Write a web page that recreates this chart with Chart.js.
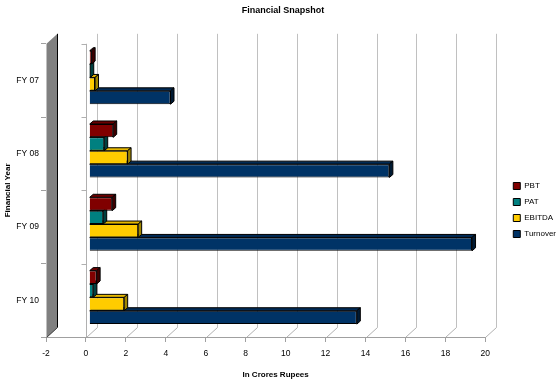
<!DOCTYPE html>
<html><head><meta charset="utf-8">
<script src="https://cdn.jsdelivr.net/npm/chart.js@4"></script>
<style>html,body{margin:0;padding:0;background:#fff}</style>
</head><body>
<canvas id="c" width="560" height="382"></canvas>
<script>
// ---- data ----
const categories = ['FY 07', 'FY 08', 'FY 09', 'FY 10'];
const seriesNames = ['PBT', 'PAT', 'EBITDA', 'Turnover'];
const pbt = [0.12, 1.2, 1.15, 0.37];
const pat = [0.05, 0.75, 0.7, 0.2];
const ebitda = [0.29, 1.92, 2.45, 1.75];
const turnover = [4.07, 15.03, 19.17, 13.4];
const xTickMin = -2, xTickMax = 20, xTickStep = 2;

// ---- styles ----
const FONT = 'Liberation Sans, Arial, sans-serif';
const frontColors = ['#800000', '#008080', '#FFCC00', '#003366'];
const topColors = ['#6a0000', '#006a6a', '#e6b800', '#002a55'];
const sideColors = ['#3d0000', '#004040', '#a08600', '#001a33'];
const FLOOR = {dx: 11, dy: -10};     // depth of the whole 3D plot
const SHIFT = {dx: 3.3, dy: -3};     // bars sit a little behind the front plane
const BAR = {dx: 3.5, dy: -3};       // depth of each bar

function poly(ctx, pts, fill, stroke) {
  ctx.beginPath();
  ctx.moveTo(pts[0][0], pts[0][1]);
  for (let i = 1; i < pts.length; i++) ctx.lineTo(pts[i][0], pts[i][1]);
  ctx.closePath();
  if (fill) { ctx.fillStyle = fill; ctx.fill(); }
  if (stroke) { ctx.strokeStyle = stroke; ctx.lineWidth = 1; ctx.stroke(); }
}
function line(ctx, x1, y1, x2, y2, color) {
  ctx.beginPath(); ctx.moveTo(x1, y1); ctx.lineTo(x2, y2);
  ctx.strokeStyle = color; ctx.lineWidth = 1; ctx.stroke();
}

const threeD = {
  id: 'threeD',
  beforeDatasetsDraw(chart) {
    const {ctx, chartArea: a, scales: {x}} = chart;
    const top = a.top, bottom = a.bottom + 0.5;
    const left = Math.round(x.getPixelForValue(xTickMin)) + 0.5;
    const right = Math.round(x.getPixelForValue(xTickMax)) + 0.5;
    ctx.save();
    // back wall gridlines + floor diagonals
    for (let v = xTickMin; v <= xTickMax; v += xTickStep) {
      const px = Math.round(x.getPixelForValue(v)) + 0.5;
      if (v > xTickMin) line(ctx, px + FLOOR.dx, top + FLOOR.dy, px + FLOOR.dx, bottom + FLOOR.dy, '#c0c0c0');
      line(ctx, px, bottom, px + FLOOR.dx, bottom + FLOOR.dy, '#b0b0b0');
    }
    // left side wall
    poly(ctx, [[left, top], [left + FLOOR.dx, top + FLOOR.dy], [left + FLOOR.dx, bottom + FLOOR.dy], [left, bottom]], '#808080');
    line(ctx, left + FLOOR.dx, top + FLOOR.dy, left + FLOOR.dx, bottom + FLOOR.dy, '#000');
    line(ctx, left, bottom, left + FLOOR.dx, bottom + FLOOR.dy, '#404040');
    // zero line with category ticks
    const zx = Math.round(x.getPixelForValue(0)) + 0.5;
    line(ctx, zx, top, zx, bottom, '#b0b0b0');
    const step = (a.bottom - a.top) / categories.length;
    for (let i = 0; i <= categories.length; i++) {
      const yy = Math.round(a.top + i * step) + 0.5;
      line(ctx, zx - 5, yy, zx, yy, '#b0b0b0');
    }
    // front axis line
    line(ctx, left, bottom, right, bottom, '#a0a0a0');
    ctx.restore();
  },
  beforeDatasetDraw(chart, args) {
    const ctx = chart.ctx;
    ctx.save();
    ctx.translate(SHIFT.dx, SHIFT.dy);
    const i = args.index;
    args.meta.data.forEach(bar => {
      const p = bar.getProps(['x', 'y', 'base', 'height'], true);
      const x0 = Math.min(p.base, p.x), x1 = Math.max(p.base, p.x);
      const y0 = p.y - p.height / 2, y1 = p.y + p.height / 2;
      poly(ctx, [[x0, y0], [x0 + BAR.dx, y0 + BAR.dy], [x1 + BAR.dx, y0 + BAR.dy], [x1, y0]], topColors[i], '#000');
      poly(ctx, [[x1, y0], [x1 + BAR.dx, y0 + BAR.dy], [x1 + BAR.dx, y1 + BAR.dy], [x1, y1]], sideColors[i], '#000');
    });
  },
  afterDatasetDraw(chart) {
    chart.ctx.restore();
  }
};

const seriesValues = [pbt, pat, ebitda, turnover];
new Chart(document.getElementById('c'), {
  type: 'bar',
  data: {
    labels: categories,
    datasets: seriesNames.map((name, i) => ({
      label: name,
      data: seriesValues[i],
      backgroundColor: frontColors[i],
      borderColor: '#000',
      borderWidth: 1
    }))
  },
  options: {
    indexAxis: 'y',
    responsive: false,
    animation: false,
    devicePixelRatio: 1,
    categoryPercentage: 0.73,
    barPercentage: 1,
    layout: {padding: {top: 0, right: -6, bottom: 0, left: 0}},
    plugins: {
      title: {
        display: true, text: 'Financial Snapshot', color: '#000',
        font: {family: FONT, size: 9, weight: 'bold'},
        padding: {top: 5, bottom: 28}
      },
      legend: {
        position: 'right',
        title: {display: true, text: ' ', font: {size: 10}, padding: {top: 13, bottom: 13}},
        labels: {boxWidth: 7, boxHeight: 7, padding: 8, color: '#000', font: {family: FONT, size: 8}}
      },
      tooltip: {enabled: false}
    },
    scales: {
      x: {
        type: 'linear', min: -2, max: 21,
        afterFit: s => { s.height = 45; },
        ticks: {stepSize: xTickStep, includeBounds: false, padding: 7, color: '#000',
                font: {family: FONT, size: 8.5}},
        grid: {drawOnChartArea: false, drawTicks: true, tickLength: 5, color: '#a0a0a0', tickColor: '#a0a0a0'},
        border: {display: false},
        title: {display: true, text: 'In Crores Rupees', color: '#000',
                font: {family: FONT, size: 8, weight: 'bold'}, padding: {top: 4, bottom: 2}}
      },
      y: {
        afterFit: s => { s.width = 46; },
        ticks: {padding: 2, color: '#000', font: {family: FONT, size: 8.5}},
        grid: {drawOnChartArea: false, drawTicks: true, tickLength: 5, offset: true, color: '#a0a0a0', tickColor: '#a0a0a0'},
        border: {display: false},
        title: {display: true, text: 'Financial Year', color: '#000',
                font: {family: FONT, size: 8, weight: 'bold'}, padding: {top: 3, bottom: 2}}
      }
    }
  },
  plugins: [threeD]
});
</script>
</body></html>
